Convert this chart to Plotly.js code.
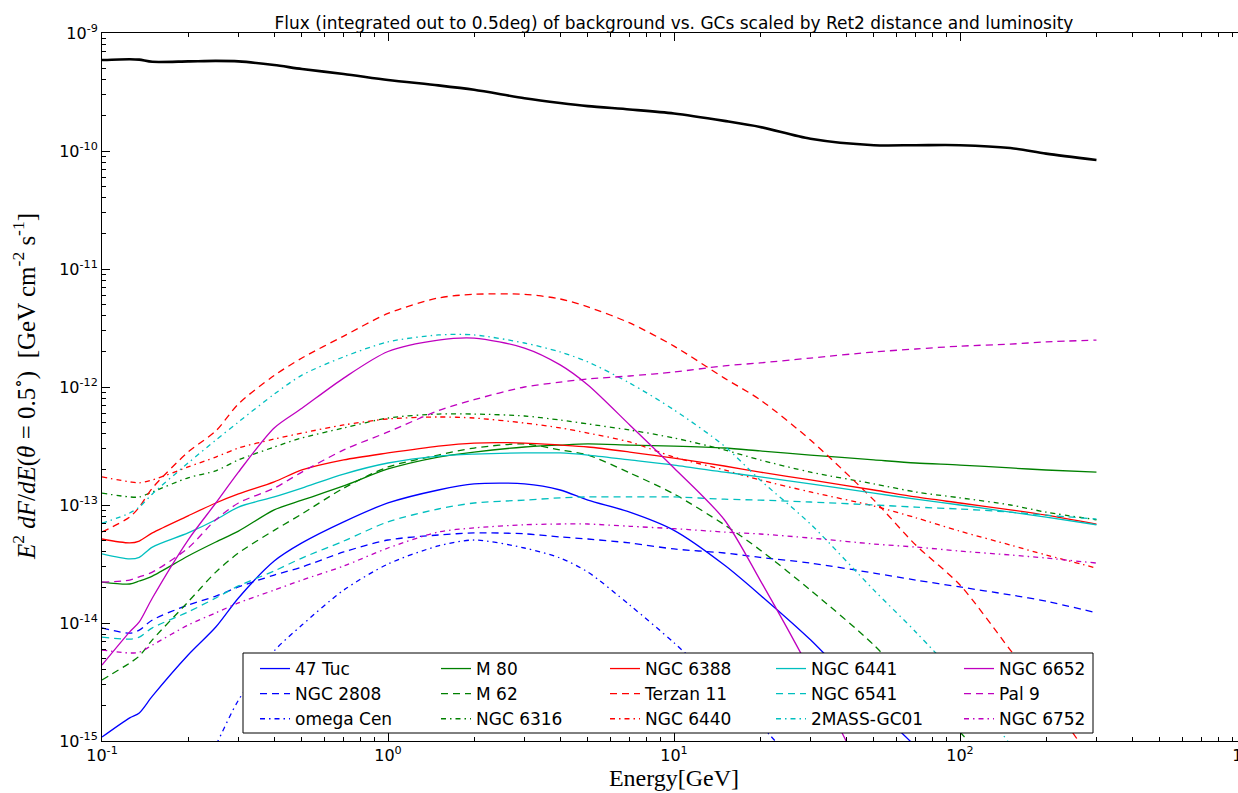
<!DOCTYPE html>
<html>
<head>
<meta charset="utf-8">
<script src="https://cdn.plot.ly/plotly-3.0.1.min.js"></script>
<style>
html,body{margin:0;padding:0;overflow:hidden;background:#fff;}
#chart{width:1250px;height:793px;}
</style>
</head>
<body>
<div id="chart"></div>
<script>
// Energy grid (GeV)
const energy = [0.1, 0.125, 0.135, 0.15, 0.2, 0.25, 0.3, 0.4, 0.5, 0.7, 1, 1.5, 2, 3, 4, 5, 7, 10, 15, 20, 30, 50, 70, 100, 150, 200, 300];

const background = [5.9e-10, 6.0e-10, 5.95e-10, 5.7e-10, 5.75e-10, 5.8e-10, 5.75e-10, 5.35e-10, 4.95e-10, 4.5e-10, 4.0e-10, 3.6e-10, 3.3e-10, 2.8e-10, 2.55e-10, 2.4e-10, 2.25e-10, 2.08e-10, 1.8e-10, 1.6e-10, 1.27e-10, 1.12e-10, 1.12e-10, 1.12e-10, 1.06e-10, 9.5e-11, 8.4e-11];

const tuc47 = [1.08e-15, 1.57e-15, 1.73e-15, 2.4e-15, 5.36e-15, 9.25e-15, 1.63e-14, 3.35e-14, 4.77e-14, 7.2e-14, 1.04e-13, 1.34e-13, 1.51e-13, 1.51e-13, 1.34e-13, 1.10e-13, 8.7e-14, 6.1e-14, 3.1e-14, 1.73e-14, 7.2e-15, 2.0e-15, 9e-16, 4e-16, null, null, null];
const ngc2808 = [9.1e-15, 8.2e-15, 8.7e-15, 1.06e-14, 1.42e-14, 1.69e-14, 2.02e-14, 2.55e-14, 2.98e-14, 4.0e-14, 5.05e-14, 5.57e-14, 5.8e-14, 5.7e-14, 5.36e-14, 5.15e-14, 4.77e-14, 4.24e-14, 3.92e-14, 3.6e-14, 3.22e-14, 2.65e-14, 2.31e-14, 2.02e-14, 1.73e-14, 1.53e-14, 1.22e-14];
const omegaCen = [null, null, null, null, 3.5e-16, 9.25e-16, 2.22e-15, 5.8e-15, 9.6e-15, 1.9e-14, 3.16e-14, 4.5e-14, 5.05e-14, 4.32e-14, 3.55e-14, 2.7e-14, 1.42e-14, 6.8e-15, 2.7e-15, 1.37e-15, 4.7e-16, null, null, null, null, null, null];

const m80 = [2.22e-14, 2.14e-14, 2.27e-14, 2.5e-14, 3.7e-14, 4.86e-14, 6.0e-14, 9.1e-14, 1.10e-13, 1.45e-13, 2.02e-13, 2.55e-13, 2.81e-13, 3.1e-13, 3.22e-13, 3.29e-13, 3.22e-13, 3.16e-13, 3.04e-13, 2.87e-13, 2.65e-13, 2.41e-13, 2.27e-13, 2.18e-13, 2.06e-13, 1.98e-13, 1.9e-13];
const m62 = [3.29e-15, 4.58e-15, 5.25e-15, 7.2e-15, 1.51e-14, 2.7e-14, 3.92e-14, 6.1e-14, 8.4e-14, 1.39e-13, 2.1e-13, 2.65e-13, 3.04e-13, 3.29e-13, 2.93e-13, 2.65e-13, 1.87e-13, 1.24e-13, 6.8e-14, 4.16e-14, 1.9e-14, 6.5e-15, 2.7e-15, 1.19e-15, 3.8e-16, null, null];
const ngc6316 = [1.26e-13, 1.17e-13, 1.17e-13, 1.29e-13, 1.7e-13, 1.95e-13, 2.41e-13, 3.1e-13, 3.7e-13, 4.5e-13, 5.46e-13, 5.9e-13, 5.9e-13, 5.68e-13, 5.25e-13, 4.86e-13, 4.32e-13, 3.7e-13, 2.93e-13, 2.41e-13, 1.9e-13, 1.51e-13, 1.29e-13, 1.15e-13, 1.0e-13, 8.7e-14, 7.5e-14];

const ngc6388 = [5.15e-14, 4.77e-14, 4.95e-14, 5.8e-14, 8.1e-14, 1.04e-13, 1.24e-13, 1.57e-13, 1.98e-13, 2.41e-13, 2.76e-13, 3.16e-13, 3.35e-13, 3.35e-13, 3.22e-13, 3.1e-13, 2.81e-13, 2.5e-13, 2.14e-13, 1.9e-13, 1.63e-13, 1.34e-13, 1.17e-13, 1.04e-13, 9.1e-14, 8.2e-14, 6.9e-14];
const terzan11 = [5.9e-14, 7.9e-14, 9.6e-14, 1.39e-13, 2.81e-13, 4.24e-13, 7.2e-13, 1.25e-12, 1.76e-12, 2.7e-12, 4.2e-12, 5.68e-12, 6.1e-12, 6.1e-12, 5.57e-12, 4.77e-12, 3.49e-12, 2.22e-12, 1.19e-12, 7.8e-13, 3.55e-13, 1.10e-13, 4.58e-14, 2.1e-14, 5.9e-15, 2.45e-15, 6e-16];
const ngc6440 = [1.73e-13, 1.57e-13, 1.54e-13, 1.63e-13, 2.1e-13, 2.55e-13, 3.04e-13, 3.62e-13, 4.07e-13, 4.77e-13, 5.36e-13, 5.57e-13, 5.46e-13, 4.95e-13, 4.5e-13, 4.07e-13, 3.42e-13, 2.55e-13, 1.98e-13, 1.63e-13, 1.29e-13, 9.8e-14, 7.8e-14, 6.0e-14, 4.58e-14, 3.77e-14, 2.92e-14];

const ngc6441 = [3.85e-14, 3.49e-14, 3.6e-14, 4.4e-14, 5.8e-14, 7.5e-14, 9.6e-14, 1.17e-13, 1.39e-13, 1.83e-13, 2.27e-13, 2.6e-13, 2.7e-13, 2.76e-13, 2.76e-13, 2.65e-13, 2.41e-13, 2.18e-13, 1.9e-13, 1.73e-13, 1.51e-13, 1.26e-13, 1.12e-13, 1.0e-13, 8.7e-14, 7.9e-14, 6.8e-14];
const ngc6541 = [7.6e-15, 7.3e-15, 7.6e-15, 9.1e-15, 1.24e-14, 1.63e-14, 2.06e-14, 2.76e-14, 3.55e-14, 4.95e-14, 7.2e-14, 9.25e-14, 1.04e-13, 1.10e-13, 1.15e-13, 1.17e-13, 1.17e-13, 1.17e-13, 1.12e-13, 1.10e-13, 1.06e-13, 1.0e-13, 9.6e-14, 9.25e-14, 8.7e-14, 8.2e-14, 7.6e-14];
const mass2gc01 = [7.0e-14, 8.55e-14, 9.6e-14, 1.24e-13, 2.27e-13, 3.55e-13, 5.05e-13, 8.7e-13, 1.26e-12, 1.8e-12, 2.41e-12, 2.76e-12, 2.76e-12, 2.36e-12, 1.98e-12, 1.63e-12, 1.08e-12, 6.4e-13, 3.16e-13, 1.63e-13, 6.9e-14, 1.9e-14, 8.4e-15, 3.3e-15, 9.3e-16, 3.5e-16, null];

const ngc6652 = [4.4e-15, 8.4e-15, 1.02e-14, 1.63e-14, 5.05e-14, 1.04e-13, 1.9e-13, 4.5e-13, 6.6e-13, 1.19e-12, 2.0e-12, 2.5e-12, 2.6e-12, 2.14e-12, 1.54e-12, 1.04e-12, 4.77e-13, 2.06e-13, 7.5e-14, 2.31e-14, 3.9e-15, 3.4e-16, null, null, null, null, null];
const pal9 = [2.22e-14, 2.31e-14, 2.46e-14, 2.7e-14, 4.32e-14, 7.5e-14, 1.04e-13, 1.39e-13, 1.9e-13, 2.93e-13, 4.16e-13, 6.3e-13, 7.8e-13, 1.0e-12, 1.10e-12, 1.17e-12, 1.24e-12, 1.34e-12, 1.51e-12, 1.6e-12, 1.76e-12, 1.98e-12, 2.1e-12, 2.22e-12, 2.31e-12, 2.41e-12, 2.5e-12];
const ngc6752 = [5.9e-15, 5.57e-15, 5.66e-15, 6.5e-15, 9.6e-15, 1.22e-14, 1.48e-14, 1.9e-14, 2.31e-14, 3.04e-14, 4.32e-14, 5.9e-14, 6.4e-14, 6.8e-14, 6.9e-14, 6.9e-14, 6.6e-14, 6.3e-14, 5.9e-14, 5.68e-14, 5.25e-14, 4.67e-14, 4.4e-14, 4.07e-14, 3.77e-14, 3.55e-14, 3.22e-14];

// Tick labels
const xTickVals = [0.1, 1, 10, 100, 1000];
const xTickText = ['10<sup>-1</sup>', '10<sup>0</sup>', '10<sup>1</sup>', '10<sup>2</sup>', '10<sup>3</sup>'];
const yTickVals = [1e-15, 1e-14, 1e-13, 1e-12, 1e-11, 1e-10, 1e-9];
const yTickText = ['10<sup>-15</sup>', '10<sup>-14</sup>', '10<sup>-13</sup>', '10<sup>-12</sup>', '10<sup>-11</sup>', '10<sup>-10</sup>', '10<sup>-9</sup>'];

// Texts
const titleText = 'Flux (integrated out to 0.5deg) of background vs. GCs scaled by Ret2 distance and luminosity';
const xTitle = 'Energy[GeV]';
const yTitle = '<i>E</i><sup>2</sup> <i>dF</i>/<i>dE</i>(<i>θ</i> = 0.5<sup>∘</sup>)  [GeV cm<sup>-2</sup> s<sup>-1</sup>]';

// Styles
const C = {b: '#0000ff', g: '#008000', r: '#ff0000', c: '#00bfbf', m: '#bf00bf'};
const DASH = '7px,5px';
const DASHDOT = '5px,4px,1.5px,4px';

// columns of the legend: [name, values, color, dash]
const columns = [
  [['47 Tuc', tuc47, C.b, 'solid'], ['NGC 2808', ngc2808, C.b, DASH], ['omega Cen', omegaCen, C.b, DASHDOT]],
  [['M 80', m80, C.g, 'solid'], ['M 62', m62, C.g, DASH], ['NGC 6316', ngc6316, C.g, DASHDOT]],
  [['NGC 6388', ngc6388, C.r, 'solid'], ['Terzan 11', terzan11, C.r, DASH], ['NGC 6440', ngc6440, C.r, DASHDOT]],
  [['NGC 6441', ngc6441, C.c, 'solid'], ['NGC 6541', ngc6541, C.c, DASH], ['2MASS-GC01', mass2gc01, C.c, DASHDOT]],
  [['NGC 6652', ngc6652, C.m, 'solid'], ['Pal 9', pal9, C.m, DASH], ['NGC 6752', ngc6752, C.m, DASHDOT]]
];

const traces = [{
  x: energy, y: background, mode: 'lines', name: 'background', showlegend: false,
  line: {color: '#000000', width: 2.6, shape: 'spline', smoothing: 0.8}
}];
columns.forEach((col, ci) => {
  col.forEach(([name, vals, color, dash]) => {
    traces.push({
      x: energy, y: vals, mode: 'lines', name: name,
      legend: ci === 0 ? 'legend' : 'legend' + (ci + 1),
      line: {color: color, width: 1.3, dash: dash, shape: 'spline', smoothing: 0.8},
      connectgaps: false
    });
  });
});

// minor tick positions (2..9 x 10^k)
function minorVals(lo, hi) {
  const v = [];
  for (let k = lo; k < hi; k++) for (let d = 2; d <= 9; d++) v.push(d * Math.pow(10, k));
  return v;
}

const W = 1250, H = 793, ML = 102, MR = 4, MT = 33, MB = 52;
const pw = W - ML - MR, ph = H - MT - MB;
const px2x = p => (p - ML) / pw;
const px2y = p => (H - MB - p) / ph;

const legFont = {family: 'DejaVu Sans, sans-serif', size: 17, color: '#000'};
const legTextX = [299, 480, 649, 815, 1003];
const legends = {};
legTextX.forEach((tx, i) => {
  legends[i === 0 ? 'legend' : 'legend' + (i + 1)] = {
    x: px2x(tx - 44), xanchor: 'left', y: px2y(651), yanchor: 'top',
    bgcolor: 'rgba(0,0,0,0)', borderwidth: 0, font: legFont,
    orientation: 'v', tracegroupgap: 0, itemclick: false
  };
});

const tickFont = {family: 'DejaVu Sans, sans-serif', size: 16, color: '#000'};
const serif = 'Liberation Serif, DejaVu Serif, serif';

const layout = Object.assign({
  width: W, height: H,
  margin: {l: ML, r: MR, t: MT, b: MB, pad: 0},
  paper_bgcolor: '#ffffff', plot_bgcolor: '#ffffff',
  showlegend: true,
  title: {
    text: titleText,
    font: {family: 'DejaVu Sans, sans-serif', size: 17, color: '#000'},
    x: 0.5, xref: 'paper', xanchor: 'center',
    y: 1, yref: 'paper', yanchor: 'bottom', pad: {b: 4}
  },
  xaxis: {
    type: 'log', range: [-1, 3],
    tickmode: 'array', tickvals: xTickVals, ticktext: xTickText,
    ticks: 'inside', ticklen: 8, tickwidth: 1, tickcolor: '#000',
    ticklabeloverflow: 'allow',
    minor: {tickmode: 'array', tickvals: minorVals(-1, 3), ticks: 'inside', ticklen: 4, tickwidth: 1, tickcolor: '#000', showgrid: false},
    showline: true, linecolor: '#000', linewidth: 1, mirror: 'allticks',
    showgrid: false, zeroline: false,
    tickfont: tickFont,
    title: {text: xTitle, font: {family: serif, size: 24, color: '#000'}, standoff: 4}
  },
  yaxis: {
    type: 'log', range: [-15, -9],
    tickmode: 'array', tickvals: yTickVals, ticktext: yTickText,
    ticks: 'inside', ticklen: 8, tickwidth: 1, tickcolor: '#000',
    ticklabeloverflow: 'allow',
    minor: {tickmode: 'array', tickvals: minorVals(-15, -9), ticks: 'inside', ticklen: 4, tickwidth: 1, tickcolor: '#000', showgrid: false},
    showline: true, linecolor: '#000', linewidth: 1, mirror: 'allticks',
    showgrid: false, zeroline: false,
    tickfont: tickFont
  },
  annotations: [{
    text: yTitle, textangle: -90, showarrow: false,
    xref: 'paper', yref: 'paper', x: px2x(24), y: 0.5, xanchor: 'center', yanchor: 'middle',
    font: {family: serif, size: 25, color: '#000'}
  }],
  shapes: [{
    type: 'rect', xref: 'paper', yref: 'paper', layer: 'above',
    x0: px2x(243), x1: px2x(1093), y0: px2y(733), y1: px2y(653),
    fillcolor: '#ffffff', line: {color: '#000', width: 1}
  }]
}, legends);

Plotly.newPlot('chart', traces, layout, {displayModeBar: false, staticPlot: true});
</script>
</body>
</html>
